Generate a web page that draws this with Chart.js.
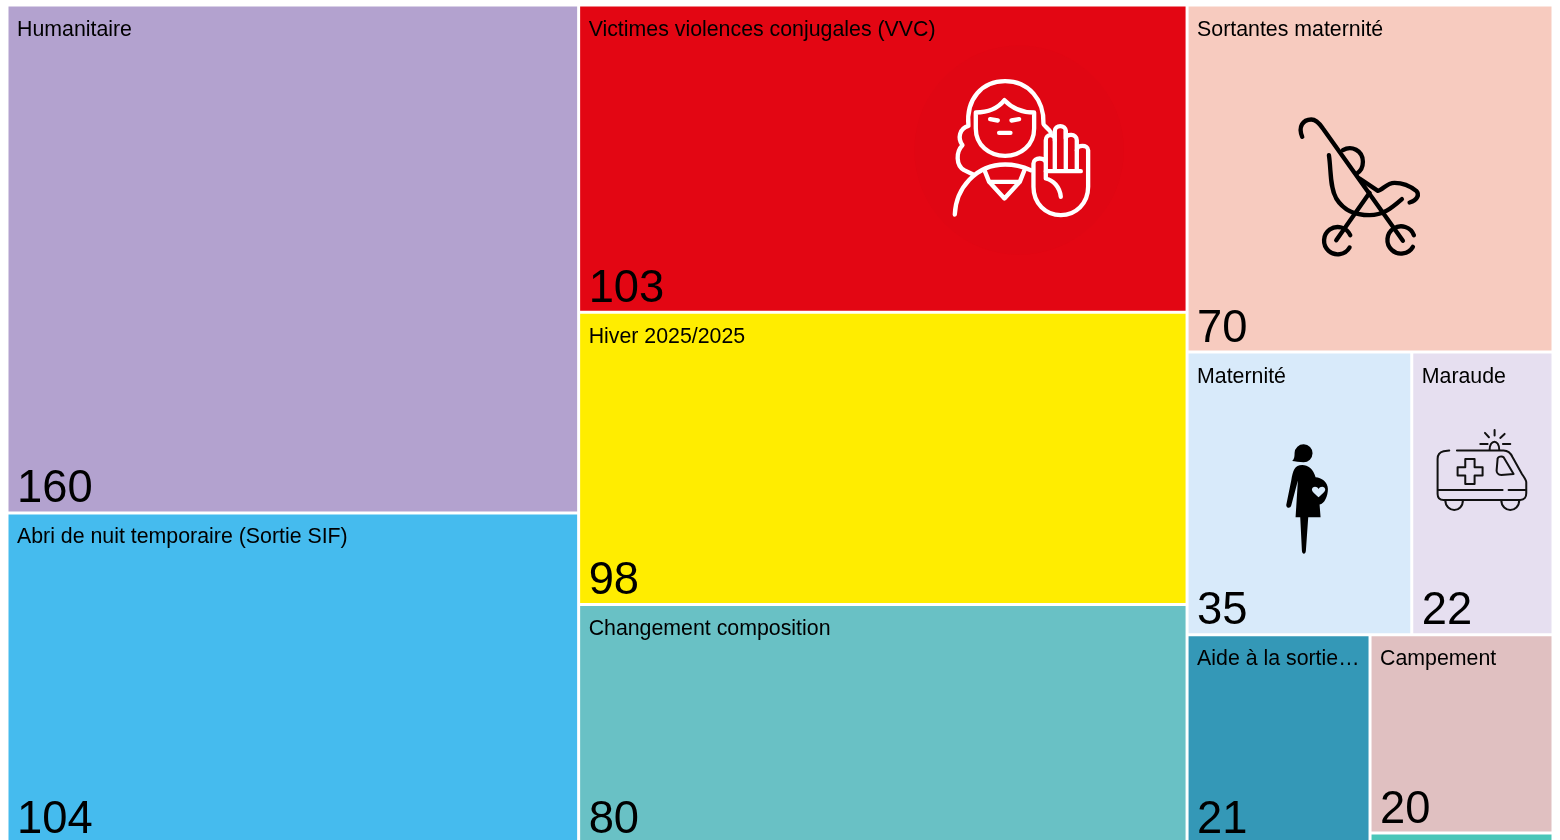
<!DOCTYPE html>
<html lang="fr">
<head>
<meta charset="utf-8">
<title>Treemap</title>
<script src="https://cdn.jsdelivr.net/npm/chart.js@4/dist/chart.umd.js"></script>
<style>
html,body{margin:0;padding:0;background:#fff;overflow:hidden;width:1560px;height:840px}
canvas{display:block}
</style>
</head>
<body>
<canvas id="c" width="1560" height="850"></canvas>
<script>
const categories = ["Humanitaire","Abri de nuit temporaire (Sortie SIF)","Victimes violences conjugales (VVC)","Hiver 2025/2025","Changement composition","Sortantes maternité","Maternité","Maraude","Aide à la sortie…","Campement",""];
const values = [160,104,103,98,80,70,35,22,21,20,1];
const colors = ["#b3a2cf","#45bbee","#e30613","#ffed00","#69c1c5","#f7cbbf","#d8eafa","#e6dff0","#3498b7","#e0c0c1","#4bc6b9"];
const tree = [[0,1],[2,3,4],[5,[6,7],[8,[9,10]]]];

const sumOf = n => Array.isArray(n) ? n.reduce((s,m)=>s+sumOf(m),0) : values[n];
function layout(node,x0,x1,y0,y1,splitX,out){
  if(!Array.isArray(node)){ out[node]={x0,x1,y0,y1}; return out; }
  const total=sumOf(node); let acc=0;
  node.forEach(ch=>{
    const a=acc/total; acc+=sumOf(ch); const b=acc/total;
    if(splitX) layout(ch,x0+(x1-x0)*a,x0+(x1-x0)*b,y0,y1,false,out);
    else layout(ch,x0,x1,y0+(y1-y0)*a,y0+(y1-y0)*b,true,out);
  });
  return out;
}

class TreemapController extends Chart.DatasetController {
  parse(){}
  update(mode){ this.updateElements(this._cachedMeta.data,0,this._cachedMeta.data.length,mode); }
  updateElements(els,start,count,mode){
    const meta=this._cachedMeta, xs=meta.xScale, ys=meta.yScale;
    const rects=layout(tree,xs.min,xs.max,ys.min,ys.max,true,[]);
    for(let i=start;i<start+count;i++){
      const r=rects[i];
      const l=xs.getPixelForValue(r.x0), rr=xs.getPixelForValue(r.x1);
      const t=ys.getPixelForValue(r.y0), b=ys.getPixelForValue(r.y1);
      this.updateElement(els[i],i,{
        x:(l+rr)/2,y:t,base:b,width:rr-l,height:b-t,horizontal:false,inflateAmount:0,enableBorderRadius:false,
        borderSkipped:{top:false,right:false,bottom:false,left:false},
        options:this.resolveDataElementOptions(i,mode)
      },mode);
    }
  }
}
TreemapController.id='treemap';
TreemapController.defaults={dataElementType:'bar',datasets:{}};
TreemapController.overrides={};
Chart.register(TreemapController);

const icons = {
  2:{ox:320.5,oy:33.5,draw(ctx,P){
    ctx.fillStyle="#e00613"; ctx.beginPath(); ctx.arc(360,335,314,0,Math.PI*2); ctx.fill();
    ctx.strokeStyle="#fff"; ctx.lineWidth=13; ctx.lineCap="round"; ctx.lineJoin="round";
    ctx.stroke(new P("M208 262C200 180 250 128 318 128C390 128 435 185 433 255C433 262 450 270 455 282M208 262C180 270 175 300 190 320C170 340 170 380 195 395L222 408"));
    ctx.stroke(new P("M230 222C270 222 300 205 316 185C335 205 365 222 405 222L405 270C405 320 365 352 318 352C270 352 230 320 230 270Z"));
    ctx.stroke(new P("M273 242L296 246M360 242L337 246M300 283L334 283"));
    ctx.stroke(new P("M167 528C170 450 230 378 318 378C345 378 370 384 395 395"));
    ctx.stroke(new P("M256 395L270 430L316 480L362 430L376 395M270 430L362 430"));
    ctx.stroke(new P("M485 475C482 445 462 425 440 420L440 305C440 285 467 285 467 305L467 278C467 258 500 258 500 278L500 300C500 285 533 285 533 305L533 335C533 318 567 318 567 335L567 445C567 495 530 530 485 530C440 530 403 495 403 445L403 375C403 355 440 355 440 375"));
    ctx.stroke(new P("M467 305L467 395M500 278L500 395M533 335L533 395M440 398L545 398"));
  }},
  5:{ox:92.5,oy:98.5,draw(ctx,P){
    ctx.strokeStyle="#000"; ctx.lineWidth=13; ctx.lineCap="round"; ctx.lineJoin="round";
    ctx.stroke(new P("M68 100C55 70 70 48 95 48C110 48 120 60 130 75L370 412"));
    ctx.stroke(new P("M190 140C215 125 250 140 250 175C250 195 240 205 232 210"));
    ctx.stroke(new P("M148 155C155 200 150 250 170 285C195 325 230 335 270 335C310 335 335 315 367 287"));
    ctx.stroke(new P("M240 225L295 262C310 260 320 238 345 238C370 238 395 250 410 262C420 272 415 290 390 297"));
    ctx.stroke(new P("M270 268L170 410"));
    ctx.stroke(new P("M212 395A41 41 0 1 0 210 432"));
    ctx.stroke(new P("M403 395A41 41 0 1 0 400 430"));
  }},
  6:{ox:72.5,oy:73.5,draw(ctx,P){
    ctx.fillStyle="#000";
    ctx.fill(new P("M98 106C105 100 105 90 105 82A27 27 0 1 1 132 110C120 110 105 106 98 106Z"));
    ctx.fill(new P("M128 118C105 118 100 135 95 165L80 238C80 248 92 250 95 240L115 165L108 275L122 275L127 375C128 388 138 388 139 375L146 275L183 275L180 237C195 235 205 210 205 190C205 170 185 155 168 155C162 130 145 118 128 118Z"));
    ctx.fillStyle=colors[6];
    ctx.fill(new P("M177 215C165 205 157 198 157 192C157 182 172 180 177 190C182 180 197 182 197 192C197 198 189 205 177 215Z"));
  }},
  7:{ox:13.5,oy:68.5,draw(ctx,P){
    ctx.strokeStyle="#111"; ctx.lineWidth=6; ctx.lineCap="round"; ctx.lineJoin="round";
    ctx.stroke(new P("M72 90L55 92C42 95 37 105 37 115L37 220C37 232 45 238 55 238L285 238C298 238 303 228 303 218L303 185C303 178 295 168 290 160L262 110C255 95 245 90 235 90L95 90"));
    ctx.stroke(new P("M40 208L232 208M250 208L300 208"));
    ctx.stroke(new P("M60 238C60 258 75 268 87 268C100 268 113 258 113 238M228 238C228 258 243 268 255 268C268 268 282 258 282 238"));
    ctx.stroke(new P("M120 115L148 115L148 140L172 140L172 165L148 165L148 190L120 190L120 165L97 165L97 140L120 140Z"));
    ctx.stroke(new P("M217 115C217 108 230 105 235 110L265 160L228 163C218 163 214 155 214 150Z"));
    ctx.stroke(new P("M193 88C193 55 222 55 222 88M165 70L187 70M179 37L191 50M208 28L208 45M238 40L225 52M233 70L255 70"));
  }}
};

const tileText = {
  id:'tileText',
  afterDatasetsDraw(chart){
    const ctx=chart.ctx, els=chart.getDatasetMeta(0).data;
    els.forEach((el,i)=>{
      const left=el.x-el.width/2, top=el.y, bottom=el.base;
      if(icons[i]){
        ctx.save();
        ctx.translate(left+icons[i].ox,top+icons[i].oy);
        ctx.scale(1/3,1/3);
        icons[i].draw(ctx,Path2D);
        ctx.restore();
      }
      if(!categories[i]) return;
      ctx.save();
      ctx.fillStyle="#000";
      ctx.textBaseline="alphabetic"; ctx.textAlign="left";
      ctx.font='21.33px "Liberation Sans", Arial, sans-serif';
      ctx.fillText(categories[i],left+10,top+30.5);
      ctx.font='45.33px "Liberation Sans", Arial, sans-serif';
      ctx.fillText(String(values[i]),left+10,bottom-10.5);
      ctx.restore();
    });
  }
};

new Chart(document.getElementById('c').getContext('2d'),{
  type:'treemap',
  data:{labels:categories,datasets:[{data:values,backgroundColor:colors,borderColor:"#ffffff",borderWidth:1.5,clip:false}]},
  plugins:[tileText],
  options:{
    responsive:false,animation:false,
    layout:{autoPadding:false,padding:{left:7,right:7,top:5,bottom:7}},
    plugins:{legend:{display:false},tooltip:{enabled:false},title:{display:false}},
    scales:{
      x:{type:'linear',min:0,max:714,display:false},
      y:{type:'linear',min:0,max:1,reverse:true,display:false}
    }
  }
});
</script>
</body>
</html>
